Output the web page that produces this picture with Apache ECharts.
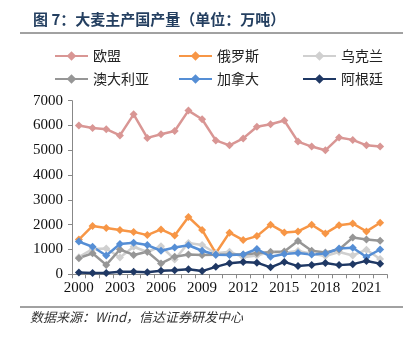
<!DOCTYPE html>
<html>
<head>
<meta charset="utf-8">
<script src="https://cdn.jsdelivr.net/npm/echarts@6/dist/echarts.min.js"></script>
<style>html,body{margin:0;padding:0;background:#fff;}#c{width:416px;height:339px;}</style>
</head>
<body>
<div id="c"></div>
<script>
const years = ['2000','2001','2002','2003','2004','2005','2006','2007','2008','2009','2010','2011','2012','2013','2014','2015','2016','2017','2018','2019','2020','2021','2022'];
const seriesNames = ['欧盟','俄罗斯','乌克兰','澳大利亚','加拿大','阿根廷'];
const eu        = [6000,5900,5850,5600,6450,5500,5650,5780,6600,6250,5400,5200,5480,5950,6050,6200,5350,5150,5000,5520,5420,5200,5150];
const russia    = [1400,1950,1870,1790,1710,1580,1810,1560,2310,1790,850,1680,1380,1540,2000,1690,1730,2000,1650,1980,2050,1730,2080];
const ukraine   = [690,1020,1040,680,1110,900,1130,600,1260,1180,850,910,690,760,910,870,940,830,740,900,760,990,620];
const australia = [650,850,380,1000,780,910,440,710,800,780,790,800,800,850,900,920,1340,950,880,1000,1480,1400,1350];
const canada    = [1320,1110,760,1220,1270,1180,950,1080,1170,950,790,780,800,1020,710,820,860,800,840,1040,1070,700,1000];
const argentina = [70,50,50,100,100,80,140,160,200,130,300,450,500,470,280,500,330,380,460,370,410,540,430];
const yTicks = [0,1000,2000,3000,4000,5000,6000,7000];
const colors = ['#d99694','#f79646','#d0d0d0','#969696','#558ed5','#1f3864'];
const dataAll = [eu,russia,ukraine,australia,canada,argentina];

const chart = echarts.init(document.getElementById('c'));
const legendPos = [[49,44],[173,44],[297,44],[49,67],[173,67],[297,67]];
const legends = seriesNames.map((n,i)=>({
  data:[n], left:legendPos[i][0], top:legendPos[i][1], itemWidth:33, itemHeight:12, itemGap:0,
  textStyle:{fontSize:14, color:'#222', fontFamily:'"Noto Sans CJK SC"'},
  selectedMode:false
}));
chart.setOption({
  animation:false,
  title:{text:'图 7：大麦主产国产量（单位：万吨）', left:28, top:7,
    textStyle:{fontSize:15, fontWeight:'bold', color:'#243f60', fontFamily:'"Noto Sans CJK SC"'}},
  legend:legends,
  grid:{left:72, right:29, top:100.7, bottom:64.7},
  xAxis:{type:'category', data:years, boundaryGap:true,
    axisLine:{lineStyle:{color:'#888', width:1}},
    axisTick:{show:true, interval:0, length:4, lineStyle:{color:'#888'}},
    axisLabel:{interval:2, fontSize:15, color:'#111', fontFamily:'"Liberation Serif"', margin:6}},
  yAxis:{type:'value', min:yTicks[0], max:yTicks[yTicks.length-1], interval:1000,
    axisLine:{show:true, lineStyle:{color:'#888'}},
    axisTick:{show:true, length:4, lineStyle:{color:'#888'}},
    splitLine:{show:false},
    axisLabel:{fontSize:15, color:'#111', fontFamily:'"Liberation Serif"', margin:9, formatter:v=>String(v)}},
  series: seriesNames.map((n,i)=>({
    name:n, type:'line', data:dataAll[i], symbol:'diamond', symbolSize:8,
    lineStyle:{color:colors[i], width:2.5}, itemStyle:{color:colors[i]}
  })),
  graphic:[
    {type:'line', shape:{x1:20,y1:33,x2:403,y2:33}, style:{stroke:'#444', lineWidth:1}},
    {type:'line', shape:{x1:20,y1:307,x2:403,y2:307}, style:{stroke:'#444', lineWidth:1}},
    {type:'text', left:30, top:311, style:{text:'数据来源：Wind，信达证券研发中心', font:'italic 13px "Noto Sans CJK SC"', fill:'#333'}}
  ]
});
</script>
</body>
</html>
